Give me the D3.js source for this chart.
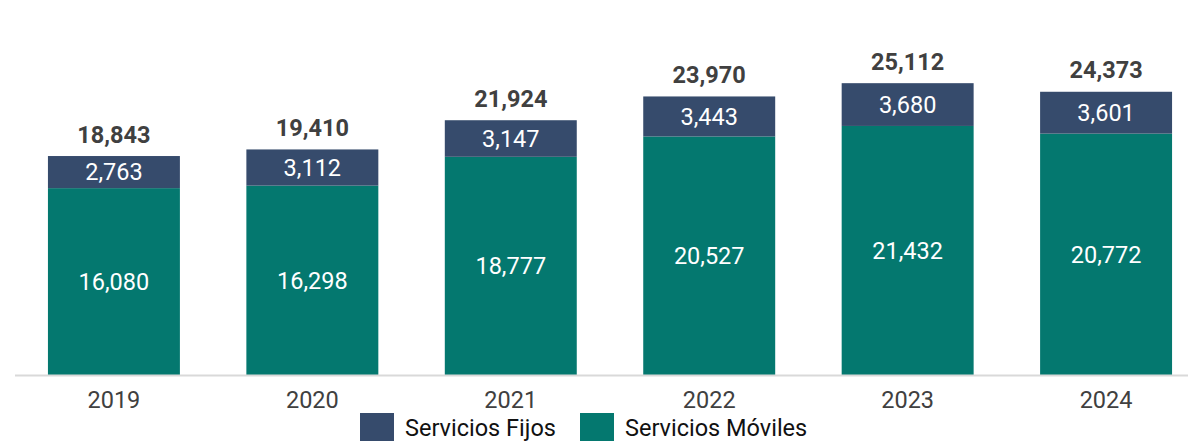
<!DOCTYPE html>
<html><head><meta charset="utf-8">
<script src="https://cdn.jsdelivr.net/npm/d3@7"></script>
<style>body{margin:0;background:#fff}svg{display:block;font-family:Roboto,"Noto Sans",sans-serif}</style>
</head><body><svg id="c" width="1188" height="441"></svg>
<script>
const years = ["2019","2020","2021","2022","2023","2024"];
const fijos = [2763,3112,3147,3443,3680,3601];
const moviles = [16080,16298,18777,20527,21432,20772];
const totals = [18843,19410,21924,23970,25112,24373];
const seriesNames = ["Servicios Fijos","Servicios Móviles"];
const colors = {fijos:"#364b6c", moviles:"#04786f"};

const svg = d3.select("#c");
const baseY = 375;
const fs = 23.5;
const x = d3.scaleBand().domain(years).range([15,1205]).paddingInner(0.335).paddingOuter(0.166);
const y = d3.scaleLinear().domain([0,32270]).range([baseY,0]);
const fmt = d3.format(",");

const data = years.map((yr,i)=>({yr, f:fijos[i], m:moviles[i], t:totals[i]}));

// bars
svg.selectAll(".m").data(data).join("rect")
  .attr("x",d=>x(d.yr)).attr("width",x.bandwidth())
  .attr("y",d=>y(d.m)).attr("height",d=>y(0)-y(d.m)).attr("fill",colors.moviles);
svg.selectAll(".f").data(data).join("rect")
  .attr("x",d=>x(d.yr)).attr("width",x.bandwidth())
  .attr("y",d=>y(d.m+d.f)).attr("height",d=>y(d.m)-y(d.m+d.f)).attr("fill",colors.fijos);

// axis line
svg.append("line").attr("x1",15).attr("x2",1188).attr("y1",baseY+0.5).attr("y2",baseY+0.5)
  .attr("stroke","#d9d9d9").attr("stroke-width",2);

// axis labels
const ax = svg.append("g").attr("transform",`translate(0,${baseY})`).call(d3.axisBottom(x).tickSize(0).tickPadding(16));
ax.select(".domain").remove();
ax.selectAll("text").attr("font-size",fs).attr("fill","#404040").attr("font-family","Roboto");

// inner labels
svg.selectAll(".ml").data(data).join("text")
  .attr("x",d=>x(d.yr)+x.bandwidth()/2).attr("y",d=>(y(0)+y(d.m))/2)
  .attr("dy","0.35em").attr("text-anchor","middle").attr("fill","#fff").attr("font-size",fs)
  .text(d=>fmt(d.m));
svg.selectAll(".fl").data(data).join("text")
  .attr("x",d=>x(d.yr)+x.bandwidth()/2).attr("y",d=>(y(d.m)+y(d.m+d.f))/2)
  .attr("dy","0.35em").attr("text-anchor","middle").attr("fill","#fff").attr("font-size",fs)
  .text(d=>fmt(d.f));
// totals
svg.selectAll(".tl").data(data).join("text")
  .attr("x",d=>x(d.yr)+x.bandwidth()/2).attr("y",d=>y(d.t)-13.5)
  .attr("text-anchor","middle").attr("fill","#404040").attr("font-size",fs).attr("font-weight","bold")
  .text(d=>fmt(d.t));

// legend
const leg = [{n:seriesNames[0],c:colors.fijos,x:360},{n:seriesNames[1],c:colors.moviles,x:580}];
const lg = svg.selectAll(".lg").data(leg).join("g").attr("transform",d=>`translate(${d.x},413)`);
lg.append("rect").attr("width",34).attr("height",28).attr("fill",d=>d.c);
lg.append("text").attr("x",45).attr("y",22.5).attr("font-size",fs).attr("fill","#111").text(d=>d.n);
</script></body></html>
